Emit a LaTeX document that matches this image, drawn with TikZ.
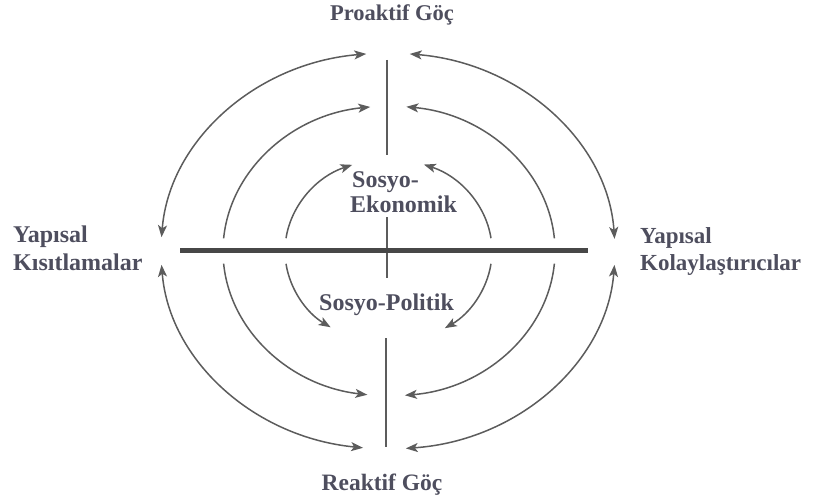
\documentclass[tikz,border=0pt]{standalone}
\usepackage{fontspec}
\setmainfont{Liberation Serif}
\usetikzlibrary{arrows.meta}
\definecolor{txt}{HTML}{4E4E5E}
\definecolor{arc}{HTML}{5C5C5C}
\definecolor{bar}{HTML}{474747}
\tikzset{
  lbl/.style={font=\fontsize{24}{28}\selectfont\bfseries, text=txt, inner sep=0pt},
  lblr/.style={font=\fontsize{23}{27}\selectfont\bfseries, text=txt, inner sep=0pt},
  lblpro/.style={font=\fontsize{22.5}{26}\selectfont\bfseries, text=txt, inner sep=0pt},
  lblrea/.style={font=\fontsize{23.5}{27}\selectfont\bfseries, text=txt, inner sep=0pt},
  ring/.style={draw=arc, line width=1.5pt},
  axis/.style={draw=arc, line width=1.3pt},
}
\begin{document}
\begin{tikzpicture}[x=1pt,y=1pt]
\useasboundingbox (0,0) rectangle (814,499);
% centre
\coordinate (C) at (388,248);
% axes
\coordinate (vt1) at (387,439); \coordinate (vt2) at (387,344);
\coordinate (vm1) at (387,282); \coordinate (vm2) at (387,221);
\coordinate (vb1) at (386,161); \coordinate (vb2) at (386,52);
\coordinate (hl) at (180,249); \coordinate (hr) at (588,249);
\draw[axis] (vt1) -- (vt2);
\draw[axis] (vm1) -- (vm2);
\draw[axis] (vb1) -- (vb2);
\draw[draw=bar, line width=5pt] (hl) -- (hr);
% outer ring
\path (C) ++(176:227 and 198) coordinate (o1);
\path (C) ++(84.5:227 and 198) coordinate (o2);
\path (C) ++(184:227 and 198) coordinate (o3);
\path (C) ++(356:227 and 198) coordinate (o4);
\draw[ring, {Stealth[length=12pt,width=9pt,inset=3pt]}-{Stealth[length=12pt,width=9pt,inset=3pt]}] (o1) arc[start angle=176, end angle=95.5, x radius=227, y radius=198];
\draw[ring, {Stealth[length=12pt,width=9pt,inset=3pt]}-{Stealth[length=12pt,width=9pt,inset=3pt]}] (o2) arc[start angle=84.5, end angle=3.5, x radius=227, y radius=198];
\draw[ring, {Stealth[length=12pt,width=9pt,inset=3pt]}-{Stealth[length=12pt,width=9pt,inset=3pt]}] (o3) arc[start angle=184, end angle=263.7, x radius=227, y radius=198];
\draw[ring, {Stealth[length=12pt,width=9pt,inset=3pt]}-{Stealth[length=12pt,width=9pt,inset=3pt]}] (o4) arc[start angle=356, end angle=274.5, x radius=227, y radius=198];
% middle ring
\coordinate (M) at (389,248);
\path (M) ++(175:166 and 145) coordinate (m1);
\path (M) ++(5:166 and 145) coordinate (m2);
\path (M) ++(185:166 and 145) coordinate (m3);
\path (M) ++(355:166 and 145) coordinate (m4);
\draw[ring, -{Stealth[length=12pt,width=9pt,inset=3pt]}] (m1) arc[start angle=175, end angle=96.5, x radius=166, y radius=145];
\draw[ring, -{Stealth[length=12pt,width=9pt,inset=3pt]}] (m2) arc[start angle=5, end angle=84, x radius=166, y radius=145];
\draw[ring, -{Stealth[length=12pt,width=9pt,inset=3pt]}] (m3) arc[start angle=185, end angle=262.5, x radius=166, y radius=145];
\draw[ring, -{Stealth[length=12pt,width=9pt,inset=3pt]}] (m4) arc[start angle=355, end angle=275.5, x radius=166, y radius=145];
% inner ring
\coordinate (I) at (388.5,248);
\path (I) ++(172:103.5 and 92) coordinate (i1);
\path (I) ++(8:103.5 and 92) coordinate (i2);
\path (I) ++(188:103.5 and 92) coordinate (i3);
\path (I) ++(352:103.5 and 92) coordinate (i4);
\draw[ring, -{Stealth[length=12pt,width=9pt,inset=3pt]}] (i1) arc[start angle=172, end angle=110.5, x radius=103.5, y radius=92];
\draw[ring, -{Stealth[length=12pt,width=9pt,inset=3pt]}] (i2) arc[start angle=8, end angle=70, x radius=103.5, y radius=92];
\draw[ring, -{Stealth[length=12pt,width=9pt,inset=3pt]}] (i3) arc[start angle=188, end angle=236, x radius=103.5, y radius=92];
\draw[ring, -{Stealth[length=12pt,width=9pt,inset=3pt]}] (i4) arc[start angle=352, end angle=303, x radius=103.5, y radius=92];
% labels
\node[lblpro, anchor=base] (pro) at (392,478) {Proaktif Göç};
\node[lblrea, anchor=base] (rea) at (382,9) {Reaktif Göç};
\node[lbl, anchor=base west] (ys1) at (13,257) {Yapısal};
\node[lbl, anchor=base west] (ys2) at (13,229) {Kısıtlamalar};
\node[lblr, anchor=base west] (yk1) at (640,256) {Yapısal};
\node[lblr, anchor=base west] (yk2) at (640,229) {Kolaylaştırıcılar};
\node[lbl, anchor=base west] (se1) at (352,312) {Sosyo-};
\node[lbl, anchor=base west] (se2) at (350,287) {Ekonomik};
\node[lbl, anchor=base west] (sp) at (319,189) {Sosyo-Politik};
\end{tikzpicture}
\end{document}
